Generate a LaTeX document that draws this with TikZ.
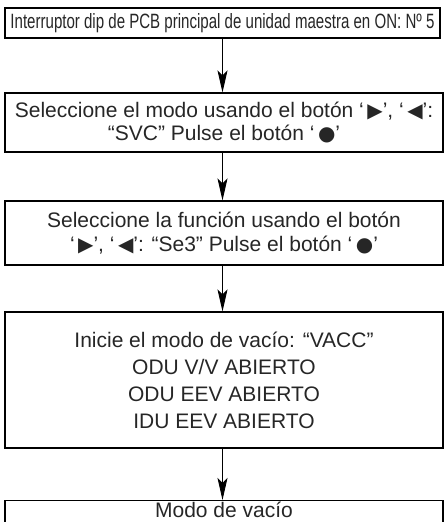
\documentclass[tikz,border=0pt]{standalone}
\usepackage{fontspec}
\setmainfont{Liberation Sans}
\newfontfamily\symf{DejaVu Sans}
\usetikzlibrary{arrows.meta}
\newcommand\rtri{{\symf\scalebox{0.95}{▶}}}
\newcommand\ltri{{\symf\scalebox{0.95}{◀}}}
\newcommand\bdot{{\symf\scalebox{0.95}{●}}}
\tikzset{
  box/.style={draw=black, line width=1.1pt, rectangle, align=center, inner sep=0pt,
    font=\fontsize{21}{23.5}\selectfont, text=black!85},
  arr/.style={draw=black, line width=0.9pt, -{Stealth[length=22pt,width=10pt,inset=5pt]}}
}
\begin{document}
\begin{tikzpicture}[x=1pt,y=-1pt]
\useasboundingbox (0,0) rectangle (444,522);
\node[box, minimum width=435pt, minimum height=30pt] (b1) at (222.5,23)
  {\resizebox{424pt}{15pt}{Interruptor dip de PCB principal de unidad maestra en ON: Nº 5}};
\node[box, minimum width=438pt, minimum height=59pt] (b2) at (224,122.5)
  {Seleccione el modo usando el botón ‘\,\rtri’, ‘\,\ltri’:\\“SVC” Pulse el botón ‘\,\bdot’};
\node[box, minimum width=438pt, minimum height=64pt] (b3) at (224,233)
  {Seleccione la función usando el botón\\‘\,\rtri’, ‘\,\ltri’: “Se3” Pulse el botón ‘\,\bdot’};
\node[box, minimum width=438pt, minimum height=136pt, font=\fontsize{21}{27}\selectfont] (b4) at (224,380)
  {Inicie el modo de vacío: “VACC”\\ODU V/V ABIERTO\\ODU EEV ABIERTO\\IDU EEV ABIERTO};
\node[box, anchor=north, minimum width=438pt, text height=17pt, text depth=30pt] (b5) at (224,500)
  {Modo de vacío};
\draw[arr] (b1.south) -- (b1.south |- b2.north);
\draw[arr] (b2.south -| b1.south) -- (b1.south |- b3.north);
\draw[arr] (b3.south -| b1.south) -- (b1.south |- b4.north);
\draw[arr] (b4.south -| b1.south) -- (b1.south |- b5.north);
\end{tikzpicture}
\end{document}
